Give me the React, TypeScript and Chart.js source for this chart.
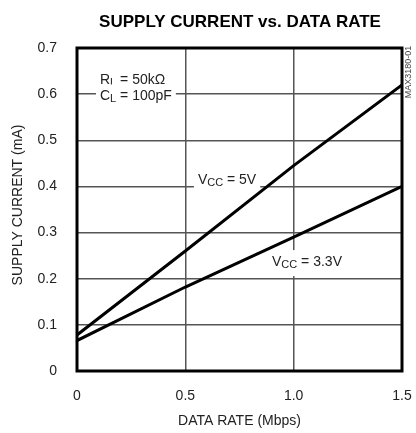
import React, { useEffect, useRef } from "react";
import { Chart, registerables } from "chart.js";

Chart.register(...registerables);

const dataRate = [0, 0.5, 1.0, 1.5];
const vcc5 = [0.078, 0.26, 0.445, 0.62];
const vcc33 = [0.066, 0.182, 0.29, 0.4];
const xTicks = [0, 0.5, 1.0, 1.5];
const yTicks = [0, 0.1, 0.2, 0.3, 0.4, 0.5, 0.6, 0.7];

const FONT = "'Liberation Sans Narrow', 'Liberation Sans', Arial, sans-serif";

type Part = { t: string; sub?: boolean };

function drawParts(ctx: CanvasRenderingContext2D, parts: Part[], x: number, y: number, size: number) {
  let cx = x;
  for (const p of parts) {
    const s = p.sub ? Math.round(size * 0.8) : size;
    ctx.font = `${s}px ${FONT}`;
    ctx.fillText(p.t, cx, p.sub ? y + 3 : y);
    cx += ctx.measureText(p.t).width;
  }
  return cx - x;
}

function measureParts(ctx: CanvasRenderingContext2D, parts: Part[], size: number) {
  let w = 0;
  for (const p of parts) {
    const s = p.sub ? Math.round(size * 0.8) : size;
    ctx.font = `${s}px ${FONT}`;
    w += ctx.measureText(p.t).width;
  }
  return w;
}

const labels: { parts: Part[]; x: number; y: number; box: boolean }[] = [
  { parts: [{ t: "R" }, { t: "L", sub: true }, { t: " = 50kΩ" }], x: 0.106, y: 0.63, box: false },
  { parts: [{ t: "C" }, { t: "L", sub: true }, { t: " = 100pF" }], x: 0.106, y: 0.595, box: true },
  { parts: [{ t: "V" }, { t: "CC", sub: true }, { t: " = 5V" }], x: 0.558, y: 0.413, box: true },
  { parts: [{ t: "V" }, { t: "CC", sub: true }, { t: " = 3.3V" }], x: 0.9, y: 0.236, box: true },
];

const decor = {
  id: "decor",
  beforeDatasetsDraw(chart: any) {
    const ctx = chart.ctx as CanvasRenderingContext2D;
    const xs = chart.scales.x;
    const ys = chart.scales.y;
    ctx.save();
    ctx.textBaseline = "middle";
    ctx.textAlign = "left";
    for (const l of labels) {
      const px = xs.getPixelForValue(l.x);
      const py = ys.getPixelForValue(l.y);
      const w = measureParts(ctx, l.parts, 14);
      if (l.box) {
        ctx.fillStyle = "#fff";
        ctx.fillRect(px - 4, py - 12, w + 8, 26);
      }
      ctx.fillStyle = "#222";
      drawParts(ctx, l.parts, px, py, 14);
    }
    ctx.restore();
  },
  afterDatasetsDraw(chart: any) {
    const ctx = chart.ctx as CanvasRenderingContext2D;
    const a = chart.chartArea;
    ctx.save();
    ctx.strokeStyle = "#000";
    ctx.lineWidth = 3;
    ctx.strokeRect(a.left, a.top, a.right - a.left, a.bottom - a.top);
    // title
    ctx.fillStyle = "#000";
    ctx.textAlign = "center";
    ctx.textBaseline = "middle";
    ctx.font = `bold 17px ${FONT}`;
    ctx.fillText("SUPPLY CURRENT vs. DATA RATE", 240, 22);
    // axis titles
    ctx.fillStyle = "#222";
    ctx.font = `14px ${FONT}`;
    ctx.fillText("DATA RATE (Mbps)", (a.left + a.right) / 2, 421);
    ctx.save();
    ctx.translate(18, 205);
    ctx.rotate(-Math.PI / 2);
    ctx.fillText("SUPPLY CURRENT (mA)", 0, 0);
    ctx.restore();
    // part number
    ctx.save();
    ctx.translate(409, 72);
    ctx.rotate(-Math.PI / 2);
    ctx.fillStyle = "#444";
    ctx.font = `9px ${FONT}`;
    ctx.fillText("MAX3180-01", 0, 0);
    ctx.restore();
    ctx.restore();
  },
};

export default function App() {
  const ref = useRef<HTMLCanvasElement>(null);
  useEffect(() => {
    if (!ref.current) return;
    const chart = new Chart(ref.current, {
      type: "line",
      data: {
        labels: dataRate,
        datasets: [
          {
            label: "VCC = 5V",
            data: dataRate.map((x, i) => ({ x, y: vcc5[i] })),
            borderColor: "#000",
            borderWidth: 3,
            pointRadius: 0,
            tension: 0,
          },
          {
            label: "VCC = 3.3V",
            data: dataRate.map((x, i) => ({ x, y: vcc33[i] })),
            borderColor: "#000",
            borderWidth: 3,
            pointRadius: 0,
            tension: 0,
          },
        ],
      },
      options: {
        animation: false,
        responsive: false,
        devicePixelRatio: 1,
        layout: { padding: { top: 48, right: 14, left: 0, bottom: 0 } },
        plugins: { legend: { display: false }, title: { display: false }, tooltip: { enabled: false } },
        scales: {
          x: {
            type: "linear",
            min: 0,
            max: 1.5,
            afterBuildTicks: (s: any) => {
              s.ticks = xTicks.map((v) => ({ value: v }));
            },
            afterFit: (s: any) => {
              s.height = 62;
            },
            grid: { color: "#555", lineWidth: 1.5, drawTicks: true, tickLength: 17, tickColor: "rgba(0,0,0,0)" },
            border: { display: false },
            ticks: {
              padding: 0,
              color: "#222",
              font: { family: FONT, size: 14 },
              callback: (v: any) => (v === 0 ? "0" : Number(v).toFixed(1)),
            },
          },
          y: {
            type: "linear",
            min: 0,
            max: 0.7,
            afterBuildTicks: (s: any) => {
              s.ticks = yTicks.map((v) => ({ value: v }));
            },
            afterFit: (s: any) => {
              s.width = 77;
            },
            grid: { color: "#555", lineWidth: 1.5, drawTicks: false },
            border: { display: false },
            ticks: {
              padding: 20,
              color: "#222",
              font: { family: FONT, size: 14 },
              callback: (v: any) => (v === 0 ? "0" : Number(v).toFixed(1)),
            },
          },
        },
      },
      plugins: [decor],
    } as any);
    return () => chart.destroy();
  }, []);
  return (
    <div style={{ position: "absolute", left: 0, top: 0, width: 416, height: 433, background: "#fff" }}>
      <canvas ref={ref} width={416} height={433} style={{ width: 416, height: 433 }} />
    </div>
  );
}
